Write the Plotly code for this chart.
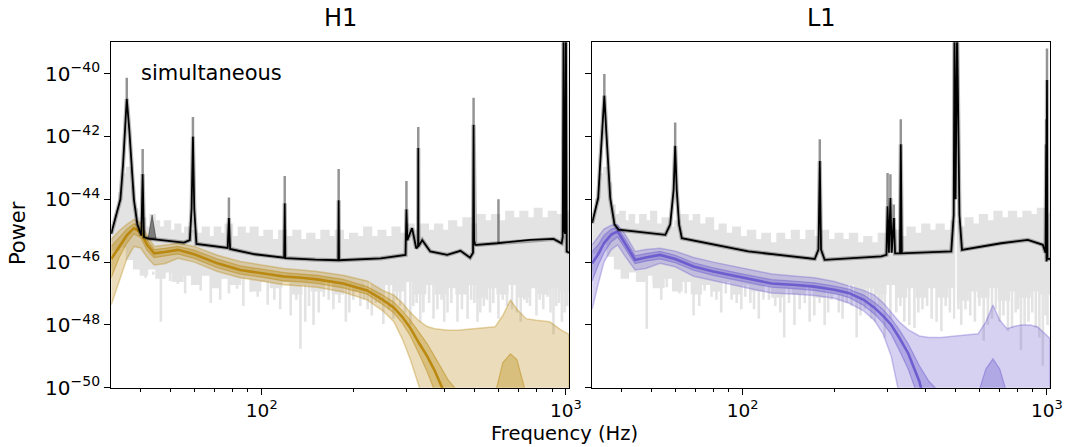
import plotly.graph_objects as go

# ---------------- DATA (power given as log10 values) ----------------
# Noisy data PSD (light grey): jagged upper envelope, jagged lower envelope, downward spikes
h1_psd_up_f = [32, 33, 34, 35, 36, 37, 38, 39, 40, 41.5, 43, 44.5, 46, 48, 50, 52, 54, 56, 58, 61, 64, 67, 70, 73, 76, 80,
               84, 88, 92, 97, 102, 108, 114, 120, 127, 134, 141, 149, 157, 166, 175, 185, 195, 206, 217, 229, 242, 255,
               269, 284, 300, 316, 333, 352, 371, 392, 413, 436, 460, 486, 513, 541, 571, 603, 636, 671, 708, 747, 789,
               832, 878, 927, 978, 1024]
h1_psd_up_v = [-45.0, -44.5, -43.8, -43.2, -43.0, -43.6, -44.3, -44.8, -44.6, -44.9, -44.5, -44.7, -44.9, -44.7, -45.0,
               -44.8, -45.1, -44.9, -45.0, -45.1, -44.9, -45.2, -44.9, -45.1, -44.8, -45.2, -44.9, -45.1, -44.9, -45.2,
               -45.0, -45.3, -45.0, -45.2, -45.0, -45.3, -45.1, -45.3, -45.0, -45.2, -45.0, -45.3, -45.1, -45.2, -44.9,
               -45.2, -45.0, -45.2, -44.9, -45.1, -44.8, -45.0, -44.8, -45.0, -44.8, -45.0, -44.7, -44.9, -44.6, -44.8,
               -44.5, -44.7, -44.5, -44.7, -44.4, -44.6, -44.4, -44.6, -44.3, -44.6, -44.4, -44.5, -44.4, -44.5]
psd_lo_f = [32, 34, 36, 38, 40, 42, 45, 48, 51, 55, 59, 63, 68, 73, 79, 85, 92, 99, 107, 116, 125, 135, 146, 158, 171,
            185, 200, 216, 234, 253, 273, 295, 319, 345, 373, 403, 436, 471, 509, 550, 595, 643, 695, 751, 812, 878,
            949, 1024]
h1_psd_lo_v = [-46.2, -45.6, -45.5, -45.9, -46.2, -46.4, -46.2, -46.5, -46.3, -46.6, -46.4, -46.7, -46.4, -46.8, -46.5,
               -46.7, -46.5, -46.9, -46.6, -46.8, -46.6, -47.0, -46.7, -46.9, -46.6, -47.0, -46.7, -46.9, -46.6, -47.0,
               -46.7, -46.9, -46.6, -47.0, -46.7, -47.0, -46.8, -47.0, -46.7, -47.1, -46.8, -47.0, -46.7, -47.1, -46.8,
               -47.0, -46.8, -46.9]
h1_dip_f = [41.5, 44, 46.6, 50, 53, 63, 73, 83, 92, 104.6, 110, 124.5, 134, 139, 148, 160, 172, 189, 200, 211, 223,
            237, 251, 271, 285, 308, 323, 340, 367, 390, 408, 440, 475, 500, 523, 550, 577, 640, 690, 730, 762, 842,
            870, 910, 950, 990,
            56, 68, 78, 87, 97, 115, 130, 143, 154, 166, 180, 194, 217, 230, 244, 262, 278, 296, 315, 332, 355, 378,
            398, 420, 455, 488, 512, 537, 563, 600, 620, 665, 710, 745, 800, 820, 890, 930, 970, 1010]
h1_dip_v = [-46.5, -46.4, -47.9, -46.6, -46.7, -46.9, -47.2, -46.85, -46.95, -47.36, -47.2, -47.7, -48.76, -47.9, -48.0,
            -47.1, -47.5, -47.9, -47.2, -47.4, -47.5, -47.3, -47.97, -47.8, -47.4, -48.0, -47.3, -47.6, -47.8, -47.2,
            -47.6, -47.9, -47.8, -47.3, -47.6, -47.2, -47.3, -47.4, -47.6, -47.2, -47.4, -47.5, -47.1, -48.3, -47.3,
            -47.6,
            -47.0, -47.3, -47.0, -47.4, -47.1, -47.5, -47.2, -47.4, -47.6, -47.2, -47.3, -47.6, -47.2, -47.7, -47.3,
            -47.5, -47.2, -47.6, -47.4, -47.9, -47.3, -47.5, -47.9, -47.3, -47.5, -47.2, -47.9, -47.4, -47.6, -47.8,
            -47.2, -47.5, -47.9, -47.3, -47.7, -47.2, -47.6, -47.4, -47.9, -47.4]

l1_psd_up_f = [32, 33, 34, 35, 36, 37, 38, 39.5, 41, 42.5, 44, 46, 48, 50, 52, 54.5, 57, 60, 63, 66, 69, 72, 76, 80, 84,
               88, 93, 98, 104, 110, 116, 123, 130, 137, 145, 153, 162, 171, 181, 191, 202, 213, 225, 238, 251, 265, 280,
               296, 312, 330, 348, 368, 389, 411, 434, 458, 484, 511, 540, 570, 602, 636, 672, 710, 750, 792, 837, 884,
               934, 987, 1024]
l1_psd_up_v = [-44.6, -44.0, -43.2, -43.0, -43.5, -44.2, -44.5, -44.4, -44.7, -44.5, -44.8, -44.5, -44.7, -44.4, -44.8,
               -44.6, -44.9, -44.7, -44.5, -44.7, -44.5, -44.8, -44.6, -45.0, -44.8, -45.1, -44.9, -45.2, -45.0, -45.3,
               -45.1, -45.4, -45.1, -45.3, -45.0, -45.3, -45.0, -45.2, -45.0, -45.3, -45.1, -45.3, -45.1, -45.4, -45.2,
               -45.4, -45.1, -45.3, -45.0, -45.2, -44.9, -45.1, -44.8, -45.0, -44.8, -45.0, -44.7, -44.9, -44.6, -44.8,
               -44.5, -44.7, -44.4, -44.6, -44.4, -44.6, -44.4, -44.5, -44.3, -44.5, -44.4]
l1_psd_lo_v = [-46.3, -45.7, -45.4, -45.8, -46.2, -46.5, -46.3, -46.6, -46.4, -46.8, -46.5, -46.9, -46.6, -47.0, -46.7,
               -46.9, -46.6, -47.0, -46.7, -46.9, -46.7, -47.1, -46.8, -47.0, -46.7, -47.1, -46.8, -47.0, -46.7, -47.1,
               -46.8, -47.0, -46.7, -47.1, -46.8, -47.1, -46.8, -47.1, -46.8, -47.2, -46.9, -47.1, -46.8, -47.2, -46.9,
               -47.1, -46.9, -47.0]
l1_dip_f = [41.6, 45, 48.4, 51, 56.3, 62, 69, 75, 82, 88, 95.6, 102, 109, 117, 128, 137, 148, 160, 172, 186, 196, 207,
            220, 237, 252, 265, 280, 293, 320, 340, 367, 390, 418, 450, 480, 512, 523, 560, 620, 660, 700, 745, 790,
            822, 870, 920, 970, 1005,
            54, 65, 72, 79, 85, 92, 99, 106, 113, 122, 133, 142, 154, 166, 179, 191, 213, 228, 244, 258, 272, 286,
            306, 330, 353, 378, 404, 434, 465, 496, 540, 580, 600, 640, 680, 720, 768, 805, 845, 895, 945, 990]
l1_dip_v = [-46.4, -46.6, -48.12, -46.7, -46.8, -47.0, -47.7, -46.9, -47.2, -47.0, -47.3, -47.1, -47.5, -47.2, -47.4,
            -48.4, -48.0, -47.3, -47.7, -48.0, -47.2, -47.6, -47.3, -48.4, -47.5, -47.8, -47.4, -48.4, -47.6, -47.9,
            -48.1, -47.5, -47.8, -48.2, -47.6, -47.5, -48.0, -47.7, -48.5, -47.8, -47.9, -48.2, -47.6, -48.8, -47.9,
            -48.1, -49.3, -48.0,
            -47.2, -47.0, -47.4, -47.1, -47.6, -47.2, -47.5, -47.3, -47.8, -47.2, -47.6, -47.3, -47.5, -47.9, -47.3,
            -47.6, -47.8, -47.4, -47.7, -47.3, -47.9, -47.5, -47.8, -47.4, -48.0, -47.6, -47.4, -47.9, -47.4, -47.8,
            -47.5, -47.9, -47.4, -48.0, -47.5, -47.7, -48.1, -47.5, -48.0, -47.6, -48.4, -47.7]
# gap in the L1 data PSD (white line through the grey)
l1_gap_f = [503]
l1_gap_hi = [-44.3]
l1_gap_lo = [-48.1]

# Fitted noise model (black line)
h1_fit_f = [32.0, 32.6, 34.3, 35.0, 35.5, 36.0, 36.7, 37.4, 38.0, 39.0, 40.2, 40.6, 41.0, 42.3, 50.0, 55.5, 58.0, 58.8,
            59.4, 60.0, 61.0, 70.0, 77.3, 78.0, 78.7, 95, 118.5, 119.0, 119.5, 150, 178.5, 179.0, 179.5, 246, 297, 299,
            301, 312, 322, 326.5, 327, 327.5, 337, 358, 407, 450, 484, 495, 497, 499, 503, 510, 594, 762, 910, 968,
            976, 982, 988, 994, 1000, 1006, 1024]
h1_fit_v = [-45.1, -44.8, -44.0, -42.9, -41.8, -40.8, -41.8, -42.9, -44.0, -44.8, -45.15, -43.2, -45.2, -45.25, -45.32,
            -45.38, -45.3, -44.3, -42.0, -44.3, -45.42, -45.5, -45.55, -44.6, -45.58, -45.75, -45.86, -44.13, -45.87,
            -45.92, -45.94, -44.03, -45.94, -45.88, -45.77, -44.32, -45.3, -44.92, -45.56, -45.5, -42.37, -45.5, -45.3,
            -45.66, -45.77, -45.64, -45.86, -45.7, -41.63, -45.3, -45.45, -45.45, -45.4, -45.29, -45.26, -45.4, -45.2,
            -38.5, -45.0, -45.1, -38.5, -45.66, -45.7]
# spikes of the posterior spread: (frequency, fit peak, spread peak)
h1_tip_f = [36.0, 40.6, 59.4, 78.0, 119.0, 179.0, 299, 327, 497, 600]
h1_tip_lo = [-40.8, -43.2, -42.0, -44.6, -44.13, -44.03, -44.32, -42.37, -41.63, -45.4]
h1_tip_hi = [-40.13, -42.4, -41.38, -43.94, -43.26, -43.04, -43.42, -41.7, -40.77, -44.0]
h1_bump_f = [42.3, 43.6, 45.0]
h1_bump_v = [-45.25, -44.5, -45.3]

l1_fit_f = [32.0, 33.5, 34.0, 34.6, 35.1, 35.6, 36.1, 36.7, 37.9, 39.1, 55.7, 57.8, 59.3, 60.0, 60.7, 61.8, 63.1, 104.4,
            172.6, 177.5, 179.3, 181, 186, 228, 285.5, 297, 299.5, 302.5, 306, 309, 314, 317, 329, 331, 333.6, 485, 494,
            497, 501, 507, 516, 526, 707, 866, 970, 990, 995, 998, 1001, 1004, 1024]
l1_fit_v = [-44.76, -43.96, -42.9, -41.8, -40.7, -41.8, -42.9, -43.96, -44.8, -44.97, -45.13, -44.8, -43.7, -42.3, -43.7,
            -44.8, -45.24, -45.66, -45.9, -45.6, -42.78, -45.6, -45.93, -45.88, -45.82, -45.77, -44.22, -45.7, -43.96,
            -45.7, -44.6, -45.72, -45.72, -42.25, -45.72, -45.66, -44.5, -38.5, -44.0, -38.5, -44.5, -45.61, -45.4,
            -45.29, -45.45, -45.7, -42.25, -45.98, -40.2, -45.9, -45.9]
l1_tip_f = [35.1, 60.0, 179.3, 299.5, 306, 314, 331, 995, 1001]
l1_tip_lo = [-40.7, -42.3, -42.78, -44.22, -43.96, -45.0, -42.25, -42.25, -40.2]
l1_tip_hi = [-40.01, -41.56, -42.09, -43.16, -43.2, -44.17, -41.45, -41.45, -39.2]

# Signal-model credible bands
h1_band_f = [32.0, 34, 36, 38, 40, 42, 44.3, 48, 53, 60, 71.5, 85, 100, 118, 135, 152, 185, 222, 250, 272, 290, 308,
             330, 350, 370, 392, 410, 440, 470, 500, 540, 585, 620, 657, 690, 740, 800, 884, 968, 1024]
h1_median = [-45.9, -45.5, -45.15, -44.92, -45.05, -45.45, -45.72, -45.68, -45.61, -45.75, -46.04, -46.25, -46.35, -46.46,
             -46.5, -46.55, -46.68, -46.9, -47.2, -47.45, -47.75, -48.1, -48.6, -49.0, -49.45, -50.0, -51, -51, -51,
             -51, -51, -51, -51, -51, -51, -51, -51, -51, -51, -51]
h1_outer_hi = [-45.28, -45.0, -44.8, -44.65, -44.75, -45.15, -45.5, -45.45, -45.4, -45.5, -45.78, -45.98, -46.08, -46.2,
               -46.25, -46.3, -46.42, -46.6, -46.9, -47.05, -47.3, -47.6, -47.88, -48.05, -48.12, -48.15, -48.17,
               -48.17, -48.15, -48.12, -48.1, -48.06, -47.7, -47.21, -47.5, -47.8, -47.85, -47.9, -48.17, -48.3]
h1_outer_lo = [-47.36, -46.6, -45.9, -45.5, -45.55, -45.85, -46.09, -46.05, -45.88, -46.0, -46.3, -46.5, -46.6, -46.72,
               -46.76, -46.8, -46.95, -47.2, -47.55, -47.9, -48.45, -49.1, -50.0, -51, -51, -51, -51, -51, -51, -51,
               -51, -51, -51, -51, -51, -51, -51, -51, -51, -51]
h1_inner_hi = [-45.5, -45.22, -44.95, -44.78, -44.9, -45.3, -45.6, -45.56, -45.5, -45.62, -45.9, -46.12, -46.22, -46.33,
               -46.38, -46.42, -46.55, -46.78, -47.05, -47.28, -47.55, -47.85, -48.25, -48.6, -49.0, -49.4, -49.75,
               -50.1, -51, -51, -51, -50.2, -49.2, -48.92, -49.1, -50.2, -51, -51, -51, -51]
h1_inner_lo = [-46.5, -45.85, -45.4, -45.1, -45.22, -45.62, -45.86, -45.8, -45.74, -45.88, -46.18, -46.38, -46.48, -46.6,
               -46.63, -46.68, -46.82, -47.02, -47.35, -47.62, -47.95, -48.35, -48.95, -49.5, -50.1, -51, -51, -51,
               -51, -51, -51, -51, -51, -51, -51, -51, -51, -51, -51, -51]

l1_band_f = [32.0, 33.5, 35, 37, 38.8, 41, 44.3, 48, 53.5, 60, 69, 80, 95.6, 110, 124.5, 150, 172, 200, 223, 250, 271,
             290, 308, 327, 350, 381, 410, 450, 500, 560, 595, 630, 665, 700, 740, 780, 822, 880, 933, 1024]
l1_median = [-46.04, -45.75, -45.4, -45.12, -45.02, -45.4, -45.93, -45.85, -45.77, -45.9, -46.14, -46.3, -46.46, -46.58,
             -46.68, -46.73, -46.78, -46.88, -46.98, -47.2, -47.45, -47.72, -48.0, -48.4, -48.9, -49.8, -51, -51, -51,
             -51, -51, -51, -51, -51, -51, -51, -51, -51, -51, -51]
l1_outer_hi = [-45.45, -45.2, -44.95, -44.83, -44.81, -45.1, -45.66, -45.6, -45.56, -45.65, -45.85, -46.0, -46.15,
               -46.28, -46.38, -46.45, -46.5, -46.62, -46.75, -46.9, -47.05, -47.3, -47.6, -47.9, -48.15, -48.35, -48.4,
               -48.4, -48.35, -48.3, -48.28, -47.9, -47.37, -47.85, -48.12, -48.05, -48.0, -48.0, -48.06, -48.43]
l1_outer_lo = [-47.5, -46.7, -46.0, -45.6, -45.45, -45.8, -46.25, -46.2, -46.04, -46.15, -46.45, -46.6, -46.75, -46.88,
               -46.98, -47.02, -47.06, -47.15, -47.3, -47.55, -47.85, -48.3, -49.0, -50.2, -51, -51, -51, -51, -51,
               -51, -51, -51, -51, -51, -51, -51, -51, -51, -51, -51]
l1_inner_hi = [-45.66, -45.45, -45.15, -44.95, -44.9, -45.25, -45.8, -45.73, -45.66, -45.78, -46.02, -46.18, -46.34,
               -46.46, -46.56, -46.61, -46.66, -46.76, -46.86, -47.05, -47.28, -47.52, -47.8, -48.15, -48.6, -49.3,
               -49.8, -50.2, -51, -51, -50.2, -49.4, -49.08, -49.4, -50.2, -51, -51, -51, -51, -51]
l1_inner_lo = [-46.6, -46.1, -45.7, -45.35, -45.2, -45.55, -46.05, -45.97, -45.9, -46.02, -46.26, -46.42, -46.58, -46.7,
               -46.8, -46.85, -46.9, -47.0, -47.12, -47.38, -47.65, -47.95, -48.3, -48.8, -49.4, -50.4, -51, -51, -51,
               -51, -51, -51, -51, -51, -51, -51, -51, -51, -51, -51]

x_major = [100, 1000]
x_major_text = ["10<sup>2</sup>", "10<sup>3</sup>"]
x_minor = [40, 50, 60, 70, 80, 90, 200, 300, 400, 500, 600, 700, 800, 900]
y_exps = [-50, -48, -46, -44, -42, -40]

# ---------------- FIGURE ----------------
def P(vals):
    return [10 ** v for v in vals]

GREY = "#e3e3e3"
FONT = "DejaVu Sans"
fig = go.Figure()


def add_panel(xa, ya, psd_up_f, psd_up_v, psd_lo_f, psd_lo_v, dip_f, dip_v,
              bf, med, ohi, olo, ihi, ilo, rgb,
              fit_f, fit_v, tip_f, tip_lo, tip_hi, bump=None, gap=None):
    common = dict(xaxis=xa, yaxis=ya, hoverinfo="skip", showlegend=False)
    # data PSD
    fig.add_trace(go.Scatter(x=psd_up_f + psd_lo_f[::-1], y=P(psd_up_v + psd_lo_v[::-1]),
                             mode="lines", line=dict(width=2, color=GREY, shape="hv"),
                             fill="toself", fillcolor=GREY, **common))
    dx, dy = [], []
    for f, v in zip(dip_f, dip_v):
        dx += [f, f, None]
        dy += [10 ** v, 10 ** -46.3, None]
    fig.add_trace(go.Scatter(x=dx, y=dy, mode="lines", line=dict(width=2.6, color=GREY), **common))
    if gap is not None:
        gx, gy = [], []
        for f, hi, lo in zip(*gap):
            gx += [f, f, None]
            gy += [10 ** hi, 10 ** lo, None]
        fig.add_trace(go.Scatter(x=gx, y=gy, mode="lines", line=dict(width=1.5, color="white"), **common))
    # credible bands
    fig.add_trace(go.Scatter(x=bf + bf[::-1], y=P(ohi + olo[::-1]), mode="lines",
                             line=dict(width=1.5, color=f"rgba({rgb},0.35)"),
                             fill="toself", fillcolor=f"rgba({rgb},0.28)", **common))
    fig.add_trace(go.Scatter(x=bf + bf[::-1], y=P(ihi + ilo[::-1]), mode="lines",
                             line=dict(width=1.2, color=f"rgba({rgb},0.45)"),
                             fill="toself", fillcolor=f"rgba({rgb},0.35)", **common))
    fig.add_trace(go.Scatter(x=bf, y=P(med), mode="lines",
                             line=dict(width=2.6, color=f"rgba({rgb},0.95)"), **common))
    # fit posterior spread
    tx, ty = [], []
    for f, lo, hi in zip(tip_f, tip_lo, tip_hi):
        tx += [f, f, None]
        ty += [10 ** lo, 10 ** hi, None]
    fig.add_trace(go.Scatter(x=tx, y=ty, mode="lines", line=dict(width=2.5, color="rgba(0,0,0,0.42)"), **common))
    if bump is not None:
        fig.add_trace(go.Scatter(x=bump[0], y=P(bump[1]), mode="lines", line=dict(width=1, color="rgba(0,0,0,0.4)"),
                                 fill="toself", fillcolor="rgba(0,0,0,0.45)", **common))
    fig.add_trace(go.Scatter(x=fit_f, y=P(fit_v), mode="lines",
                             line=dict(width=4.2, color="rgba(0,0,0,0.28)"), **common))
    fig.add_trace(go.Scatter(x=fit_f, y=P(fit_v), mode="lines",
                             line=dict(width=1.8, color="black"), **common))


add_panel("x", "y", h1_psd_up_f, h1_psd_up_v, psd_lo_f, h1_psd_lo_v, h1_dip_f, h1_dip_v,
          h1_band_f, h1_median, h1_outer_hi, h1_outer_lo, h1_inner_hi, h1_inner_lo, "184,134,11",
          h1_fit_f, h1_fit_v, h1_tip_f, h1_tip_lo, h1_tip_hi, bump=(h1_bump_f, h1_bump_v))
add_panel("x2", "y2", l1_psd_up_f, l1_psd_up_v, psd_lo_f, l1_psd_lo_v, l1_dip_f, l1_dip_v,
          l1_band_f, l1_median, l1_outer_hi, l1_outer_lo, l1_inner_hi, l1_inner_lo, "106,90,205",
          l1_fit_f, l1_fit_v, l1_tip_f, l1_tip_lo, l1_tip_hi, gap=(l1_gap_f, l1_gap_hi, l1_gap_lo))

W, H = 1068, 447
# effective drawing box observed in the rendered page
WE, HE = 1053, 433
xd1 = [111 / WE, 568 / WE]
xd2 = [591 / WE, 1048 / WE]
yd = [(HE - 386) / HE, (HE - 42) / HE]

xbase = dict(type="log", range=[1.50515, 3.0103], showline=True, linecolor="black", linewidth=1.2, mirror=True,
             ticks="outside", ticklen=6, tickwidth=1.2, tickcolor="black", tickmode="array",
             tickvals=x_major, ticktext=x_major_text, tickfont=dict(family=FONT, size=18.5, color="black"),
             ticklabelstandoff=0, showgrid=False, zeroline=False,
             minor=dict(tickmode="array", tickvals=x_minor, ticks="outside", ticklen=3.5, tickwidth=1,
                        tickcolor="black", showgrid=False))
ybase = dict(type="log", range=[-50, -39], showline=True, linecolor="black", linewidth=1.2, mirror=True,
             ticks="outside", ticklen=6, tickwidth=1.2, tickcolor="black", tickmode="array",
             tickvals=[10 ** e for e in y_exps],
             ticktext=[f"10<sup>\u2212{abs(e)}</sup>" for e in y_exps],
             tickfont=dict(family=FONT, size=20, color="black"), showgrid=False, zeroline=False)

fig.update_layout(
    width=W, height=H, autosize=False, margin=dict(l=0, r=0, t=0, b=0),
    plot_bgcolor="white", paper_bgcolor="white", showlegend=False,
    xaxis=dict(xbase, domain=xd1, anchor="y"),
    yaxis=dict(ybase, domain=yd, anchor="x"),
    xaxis2=dict(xbase, domain=xd2, anchor="y2"),
    yaxis2=dict(ybase, domain=yd, anchor="x2", showticklabels=False),
    font=dict(family=FONT, color="black"),
    annotations=[
        dict(text="H1", x=339.5 / WE, y=(HE - 18) / HE, xref="paper", yref="paper",
             showarrow=False, font=dict(size=24), xanchor="center", yanchor="middle"),
        dict(text="L1", x=819.5 / WE, y=(HE - 18) / HE, xref="paper", yref="paper",
             showarrow=False, font=dict(size=24), xanchor="center", yanchor="middle"),
        dict(text="simultaneous", x=139 / WE, y=(HE - 73) / HE, xref="paper", yref="paper",
             showarrow=False, font=dict(size=21), xanchor="left", yanchor="middle"),
        dict(text="Power", x=18 / WE, y=(HE - 232) / HE, xref="paper", yref="paper", textangle=-90,
             showarrow=False, font=dict(size=21), xanchor="center", yanchor="middle"),
        dict(text="Frequency (Hz)", x=563 / WE, y=(HE - 432) / HE, xref="paper", yref="paper",
             showarrow=False, font=dict(size=19.5), xanchor="center", yanchor="middle"),
    ],
)

fig.write_html("out.html")
